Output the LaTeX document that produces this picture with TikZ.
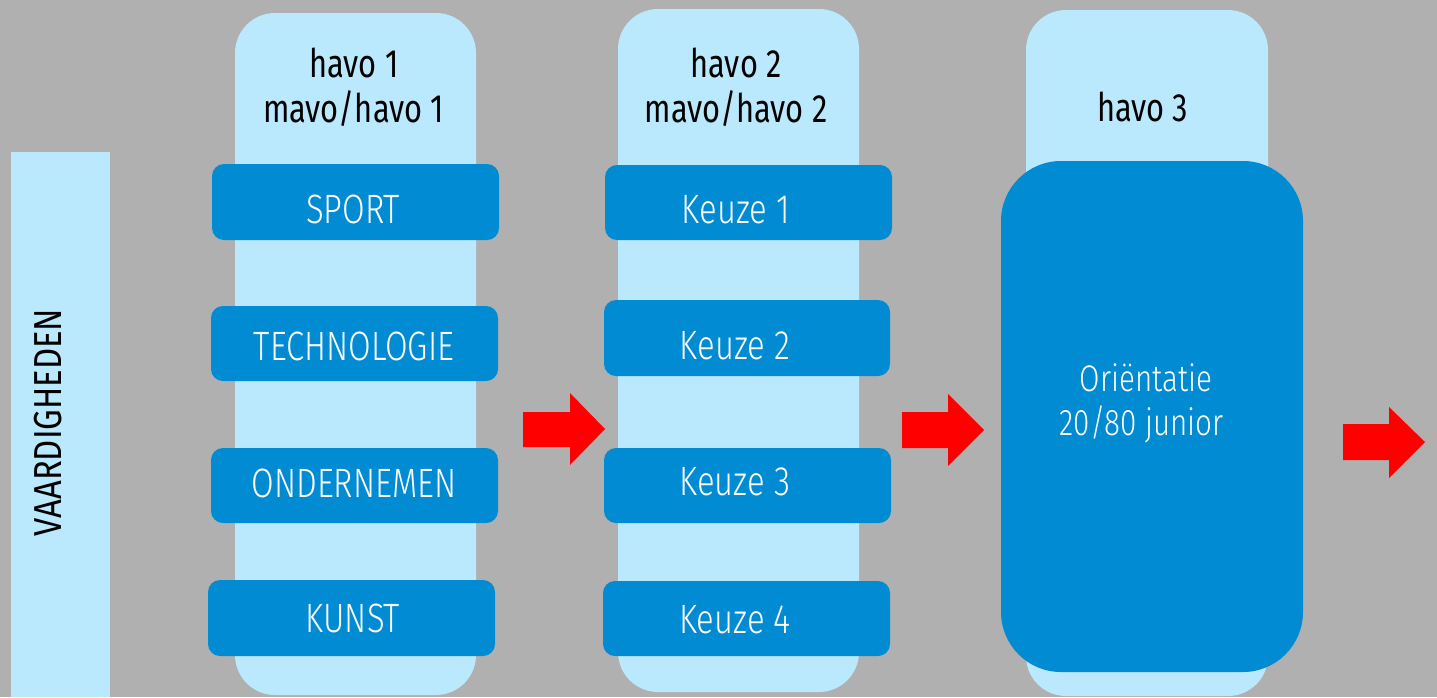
\documentclass[tikz,border=0pt]{standalone}
\usepackage{fontspec}
\setmainfont{Fira Sans}
\newfontfamily\condf{Fira Sans}[FakeStretch=0.78]
\newfontfamily\vaardf{Fira Sans}[FakeStretch=0.84]
\newfontfamily\lightf{Fira Sans Light}[FakeStretch=0.8]
\newfontfamily\normf{Fira Sans Light}[FakeStretch=0.8]
\definecolor{bgc}{RGB}{176,176,176}
\definecolor{lblue}{RGB}{186,232,253}
\definecolor{dblue}{RGB}{0,139,210}
\tikzset{
  colbox/.style={fill=lblue, rounded corners=40pt, inner sep=0pt, minimum width=241pt},
  subbox/.style={fill=dblue, rounded corners=12pt, inner sep=0pt, minimum width=287pt, minimum height=75pt},
  subtxt/.style={text=white, inner sep=0pt, font=\lightf\fontsize{41}{44}\selectfont},
  headtxt/.style={text=black, inner sep=0pt, anchor=base, font=\condf\fontsize{39.5}{44}\selectfont},
  bigtxt/.style={text=white, inner sep=0pt, anchor=base, font=\normf\fontsize{37}{40}\selectfont},
  blockarrow/.style={fill=red}
}
\begin{document}
\begin{tikzpicture}[x=1pt,y=-1pt]
\useasboundingbox (0,0) rectangle (1437,697);
\fill[bgc] (0,0) rectangle (1437,697);
% left bar
\fill[lblue] (11,152) rectangle (110,697);
\node[rotate=90, inner sep=0pt, font=\vaardf\fontsize{39}{44}\selectfont] (vaard) at (48.5,422.5) {VAARDIGHEDEN};
% columns
\node[colbox, minimum height=682pt] (col1) at (355.5,354) {};
\node[colbox, minimum height=683pt] (col2) at (738.5,350.5) {};
\node[colbox, minimum height=686pt, minimum width=242pt] (col3) at (1147,353) {};
% headings
\node[headtxt] (h1a) at (354,77) {havo 1};
\node[headtxt] (h1b) at (353.5,122) {mavo/havo 1};
\node[headtxt] (h2a) at (736,77) {havo 2};
\node[headtxt] (h2b) at (736,122) {mavo/havo 2};
\node[headtxt] (h3a) at (1142.5,121) {havo 3};
% column 1 boxes
\node[subbox, minimum height=76pt] (sport) at (355.5,202) {};
\node[subbox] (tech) at (354.5,343.5) {};
\node[subbox] (onder) at (354.5,485.5) {};
\node[subbox, minimum height=76pt] (kunst) at (351.5,618) {};
\node[subtxt] (tsport) at (353,209.5) {SPORT};
\node[subtxt] (ttech) at (354,346) {TECHNOLOGIE};
\node[subtxt] (tonder) at (354,483) {ONDERNEMEN};
\node[subtxt] (tkunst) at (353,618) {KUNST};
% column 2 boxes
\node[subbox] (k1) at (748.5,202.5) {};
\node[subbox, minimum width=286pt, minimum height=76pt] (k2) at (747,338) {};
\node[subbox] (k3) at (747.5,485.5) {};
\node[subbox] (k4) at (746.5,618.5) {};
\node[subtxt] (tk1) at (736,210) {Keuze 1};
\node[subtxt] (tk2) at (735,345.5) {Keuze 2};
\node[subtxt] (tk3) at (735,481.5) {Keuze 3};
\node[subtxt] (tk4) at (735,620) {Keuze 4};
% column 3 box
\node[fill=dblue, rounded corners=60pt, inner sep=0pt, minimum width=302pt, minimum height=511pt] (orient) at (1152,416.5) {};
\node[bigtxt] (to1) at (1146,391) {Oriëntatie};
\node[bigtxt] (to2) at (1141.5,435) {20/80 junior};
% arrows
\fill[blockarrow] (523,412) -- (570,412) -- (570,393) -- (605,429) -- (570,465) -- (570,447) -- (523,447) -- cycle;
\fill[blockarrow] (902,412) -- (948,412) -- (948,394) -- (984,430) -- (948,466) -- (948,448) -- (902,448) -- cycle;
\fill[blockarrow] (1343,424) -- (1389,424) -- (1389,407) -- (1425,442) -- (1389,478) -- (1389,460) -- (1343,460) -- cycle;
\end{tikzpicture}
\end{document}
